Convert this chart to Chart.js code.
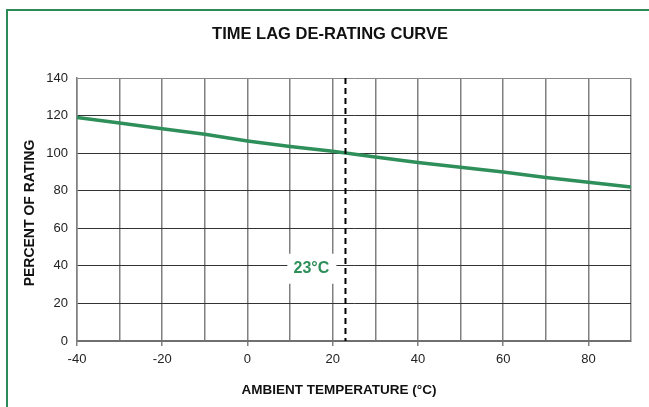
<!DOCTYPE html>
<html>
<head>
<meta charset="utf-8">
<script src="https://cdn.jsdelivr.net/npm/chart.js@4.4.1/dist/chart.umd.min.js"></script>
<style>
  html, body { margin: 0; padding: 0; background: #fff; overflow: hidden; }
  #wrap { position: relative; width: 649px; height: 407px; }
  #frame {
    position: absolute; left: 6px; top: 9px; width: 700px; height: 500px;
    border-left: 2px solid #2e8b57; border-top: 2px solid #2e8b57;
  }
  canvas { position: absolute; left: 0; top: 0; }
</style>
</head>
<body>
<div id="wrap">
  <div id="frame"></div>
  <canvas id="deratingChart" width="649" height="407"></canvas>
</div>
<script>
// Data
const temps = [-40, -30, -20, -10, 0, 10, 20, 30, 40, 50, 60, 70, 80, 90];
const percentRating = [119, 116, 113, 110, 106.5, 103.5, 101, 98, 95, 92.5, 90, 87, 84.5, 82];
const xTickStep = 10;   // grid every 10, labels every 20
const yTickStep = 20;
const markerTemp = 23;  // dashed reference line
const markerLabel = '23°C';
const markerLabelPos = { x: 15, y: 39 };

const titleText = 'TIME LAG DE-RATING CURVE';
const xTitleText = 'AMBIENT TEMPERATURE (°C)';
const yTitleText = 'PERCENT OF RATING';

const green = '#2e8f5a';
const fontFamily = '"Liberation Sans", Arial, Helvetica, sans-serif';

const points = temps.map((t, i) => ({ x: t, y: percentRating[i] }));

// Dashed marker line, its label and the free-floating titles
const annotations = {
    id: 'annotations',
    beforeDatasetsDraw(chart) {
        const ctx = chart.ctx;
        const xs = chart.scales.x, ys = chart.scales.y;
        // white box behind the label (hides grid lines)
        const cx = xs.getPixelForValue(markerLabelPos.x);
        const cy = ys.getPixelForValue(markerLabelPos.y);
        ctx.save();
        ctx.fillStyle = '#fff';
        ctx.fillRect(cx - 24, cy - 14, 49, 30);
        ctx.restore();
    },
    afterDatasetsDraw(chart) {
        const ctx = chart.ctx;
        const xs = chart.scales.x, ys = chart.scales.y;
        const area = chart.chartArea;
        const mx = xs.getPixelForValue(markerTemp);

        ctx.save();
        ctx.strokeStyle = '#000';
        ctx.lineWidth = 2;
        ctx.setLineDash([6, 4]);
        ctx.beginPath();
        ctx.moveTo(mx, area.top);
        ctx.lineTo(mx, area.bottom);
        ctx.stroke();
        ctx.setLineDash([]);

        ctx.fillStyle = green;
        ctx.font = 'bold 16px ' + fontFamily;
        ctx.textAlign = 'center';
        ctx.textBaseline = 'middle';
        ctx.fillText(markerLabel, xs.getPixelForValue(markerLabelPos.x), ys.getPixelForValue(markerLabelPos.y) + 1);

        // chart title
        ctx.fillStyle = '#111';
        ctx.font = 'bold 16.5px ' + fontFamily;
        ctx.fillText(titleText, 330, 34);

        // x axis title
        ctx.font = 'bold 13.5px ' + fontFamily;
        ctx.fillText(xTitleText, 339, 390);

        // y axis title
        ctx.font = 'bold 14px ' + fontFamily;
        ctx.translate(30, 213);
        ctx.rotate(-Math.PI / 2);
        ctx.fillText(yTitleText, 0, 0);
        ctx.restore();
    }
};

new Chart(document.getElementById('deratingChart').getContext('2d'), {
    type: 'line',
    data: {
        datasets: [{
            label: 'Percent of rating',
            data: points,
            borderColor: green,
            borderWidth: 3.5,
            pointRadius: 0,
            fill: false,
            tension: 0
        }]
    },
    options: {
        responsive: false,
        maintainAspectRatio: false,
        animation: false,
        layout: { padding: { left: 0, right: 18, top: 78, bottom: 0 } },
        plugins: {
            legend: { display: false },
            tooltip: { enabled: false }
        },
        scales: {
            x: {
                type: 'linear',
                min: temps[0],
                max: temps[temps.length - 1],
                afterFit: (scale) => { scale.height = 66; },
                ticks: {
                    stepSize: xTickStep,
                    color: '#222',
                    padding: 6,
                    font: { family: fontFamily, size: 13 },
                    maxRotation: 0,
                    autoSkip: false,
                    callback: (v) => (v % 20 === 0 ? v : '')
                },
                grid: {
                    color: '#808080',
                    lineWidth: 1.5,
                    tickLength: 5,
                    tickColor: (c) => (c.tick && c.tick.value % 20 === 0 ? '#808080' : 'rgba(0,0,0,0)')
                },
                border: { color: '#707070', width: 2 }
            },
            y: {
                min: 0,
                max: 140,
                afterFit: (scale) => { scale.width = 77; },
                ticks: {
                    stepSize: yTickStep,
                    color: '#222',
                    padding: 9,
                    font: { family: fontFamily, size: 13 }
                },
                grid: {
                    color: (c) => (c.tick && c.tick.value === 140 ? '#888' : '#333'),
                    lineWidth: 1,
                    drawTicks: false
                },
                border: { color: '#808080', width: 1.5 }
            }
        }
    },
    plugins: [annotations]
});
</script>
</body>
</html>
